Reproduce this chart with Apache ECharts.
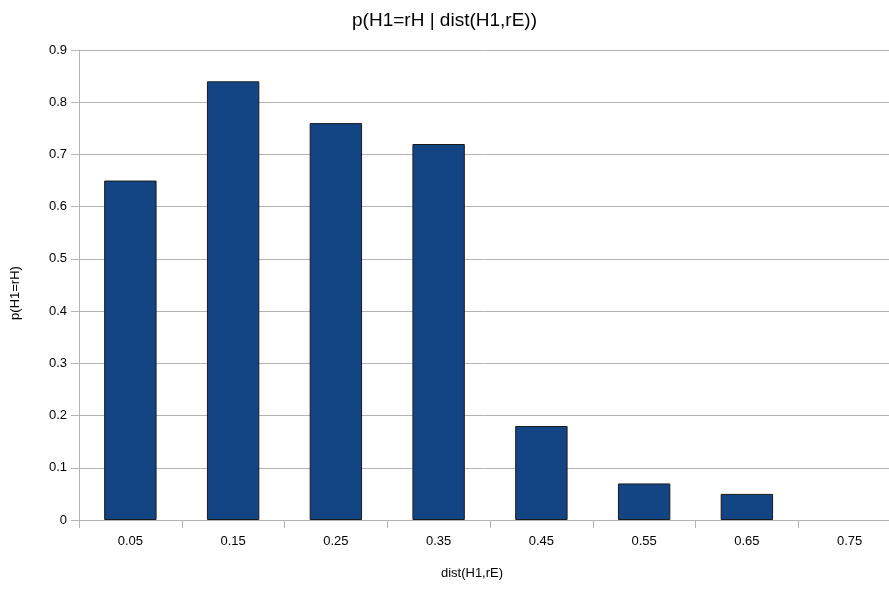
<!DOCTYPE html>
<html><head><meta charset="utf-8">
<script src="https://cdn.jsdelivr.net/npm/echarts@6/dist/echarts.min.js"></script>
<style>html,body{margin:0;padding:0;background:#fff;overflow:hidden}#c{width:889px;height:590px}</style>
</head><body><div id="c"></div>
<script>
const categories = ['0.05','0.15','0.25','0.35','0.45','0.55','0.65','0.75'];
const values = [0.65, 0.84, 0.76, 0.72, 0.18, 0.07, 0.05, null];
const yTicks = [0, 0.1, 0.2, 0.3, 0.4, 0.5, 0.6, 0.7, 0.8, 0.9];
const titleText = 'p(H1=rH | dist(H1,rE))';
const xName = 'dist(H1,rE)';
const yName = 'p(H1=rH)';

const chart = echarts.init(document.getElementById('c'));
const font = 'Liberation Sans, Arial, sans-serif';
chart.setOption({
  animation: false,
  title: { text: titleText, left: 'center', top: 6,
    textStyle: { fontFamily: font, fontSize: 19, fontWeight: 'normal', color: '#000' } },
  grid: { left: 79, width: 822, top: 50, height: 470, containLabel: false, outerBoundsMode: 'none' },
  xAxis: {
    type: 'category', data: categories, name: xName, nameLocation: 'middle', nameGap: 47,
    nameTextStyle: { fontFamily: font, fontSize: 13, color: '#000', padding: [0, 36, 0, 0] },
    axisLine: { lineStyle: { color: '#b3b3b3' } },
    axisTick: { show: true, length: 8, alignWithLabel: false, lineStyle: { color: '#b3b3b3' } },
    axisLabel: { fontFamily: font, fontSize: 13, color: '#000', margin: 15 }
  },
  yAxis: {
    type: 'value', min: yTicks[0], max: yTicks[yTicks.length-1], interval: 0.1,
    name: yName, nameLocation: 'middle', nameGap: 57, nameRotate: 90,
    nameTextStyle: { fontFamily: font, fontSize: 13, color: '#000', padding: [0, 16, 0, 0] },
    axisLine: { show: true, lineStyle: { color: '#b3b3b3' } },
    axisTick: { show: true, length: 8, lineStyle: { color: '#b3b3b3' } },
    axisLabel: { fontFamily: font, fontSize: 13, color: '#000', margin: 12,
      formatter: v => (Math.round(v*10)/10).toString() },
    splitLine: { lineStyle: { color: '#b3b3b3' } }
  },
  series: [{
    type: 'bar', data: values, barWidth: '51%',
    itemStyle: { color: '#134585', borderColor: '#1a1a1a', borderWidth: 1 }
  }]
});
</script></body></html>
